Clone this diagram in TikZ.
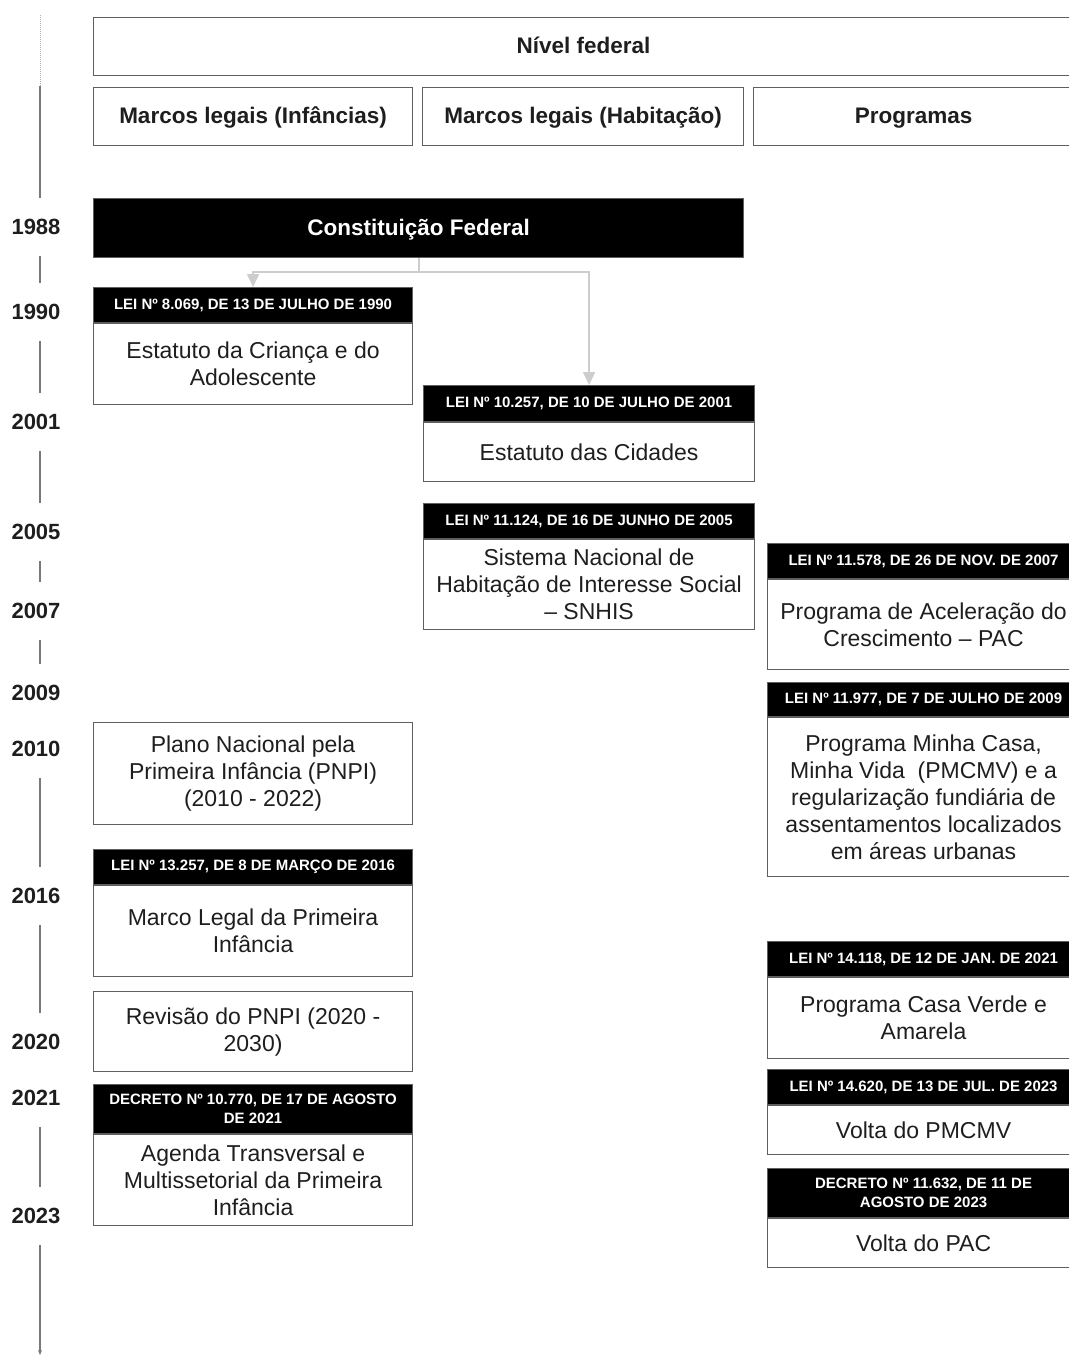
\documentclass[tikz,border=0pt]{standalone}
\usepackage{fontspec}
\setmainfont{Liberation Sans}
\usetikzlibrary{positioning,arrows.meta}
\definecolor{ink}{RGB}{30,30,30}
\definecolor{boxgray}{RGB}{95,95,95}
\definecolor{linegray}{RGB}{120,120,120}
\definecolor{arrowgray}{RGB}{205,205,205}

\begin{document}
\begin{tikzpicture}[x=1pt, y=-1pt,
    year/.style={font=\fontsize{22}{26}\selectfont\bfseries, text=ink, inner sep=0pt},
    colbox/.style={draw=boxgray, line width=1.1pt, anchor=north west, inner sep=0pt, text=ink, text depth=2pt, font=\fontsize{22.5}{27}\selectfont\bfseries},
    lawhead/.style={fill=black, draw=boxgray, line width=1.1pt, anchor=north west, inner sep=0pt, align=center, text=white, font=\fontsize{15}{19}\selectfont\bfseries},
    lawbody/.style={draw=boxgray, line width=1.1pt, inner sep=0pt, align=center, text=ink, font=\fontsize{23}{27}\selectfont},
    timeline/.style={draw=linegray, line width=1.3pt},
    flow/.style={draw=arrowgray, line width=2pt, -{Triangle[length=13pt,width=12pt]}}]
\useasboundingbox (0,0) rectangle (1068,1356);

% Column headers
\node[colbox, minimum width=980pt, minimum height=58pt] (federal) at (93,17) {Nível federal};
\node[colbox, minimum width=319pt, minimum height=58pt] (colinf) at (93,87) {Marcos legais (Infâncias)};
\node[colbox, minimum width=321pt, minimum height=58pt] (colhab) at (422,87) {Marcos legais (Habitação)};
\node[colbox, minimum width=320pt, minimum height=58pt] (colprog) at (753,87) {Programas};

% Constitution
\node[colbox, fill=black, text=white, minimum width=650pt, minimum height=59pt] (const) at (93,198) {Constituição Federal};

% Timeline
\foreach \yr/\ypos in {1988/227, 1990/312, 2001/422, 2005/532, 2007/611, 2009/693,
                       2010/749, 2016/896, 2020/1042, 2021/1098, 2023/1216} {
    \node[year] (y\yr) at (36,\ypos) {\yr};
}
\coordinate (tl) at (40,0);
\coordinate (tltop) at (40,15);
\coordinate (tlmid) at (40,86);
\coordinate (tlend) at (40,1355);
\draw[timeline, draw=linegray!60, line width=1pt, densely dotted] (tltop) -- (tlmid);
\draw[timeline, shorten >=29pt] (tlmid) -- (y1988 -| tl);
\foreach \a/\b in {1988/1990, 1990/2001, 2001/2005, 2005/2007, 2007/2009,
                   2010/2016, 2016/2020, 2021/2023} {
    \draw[timeline, shorten <=29pt, shorten >=29pt] (y\a -| tl) -- (y\b -| tl);
}
\draw[timeline, shorten <=29pt, -{Stealth[length=5pt,width=4pt]}] (y2023 -| tl) -- (tlend);

% Infancias column
\node[lawhead, minimum width=319pt, minimum height=35pt] (h1990) at (93,287) {LEI Nº 8.069, DE 13 DE JULHO DE 1990};
\node[lawbody, minimum width=319pt, minimum height=81pt, below=0pt of h1990] (b1990) {Estatuto da Criança e do\\Adolescente};
\node[lawbody, anchor=north west, minimum width=319pt, minimum height=102pt] (pnpi) at (93,722) {Plano Nacional pela\\Primeira Infância (PNPI)\\(2010 - 2022)};
\node[lawhead, minimum width=319pt, minimum height=35pt] (h2016) at (93,849) {LEI Nº 13.257, DE 8 DE MARÇO DE 2016};
\node[lawbody, minimum width=319pt, minimum height=91pt, below=0pt of h2016] (b2016) {Marco Legal da Primeira\\Infância};
\node[lawbody, anchor=north west, minimum width=319pt, minimum height=80pt] (revisao) at (93,991) {Revisão do PNPI (2020 -\\2030)};
\node[lawhead, minimum width=319pt, minimum height=49pt] (h2021) at (93,1084) {DECRETO Nº 10.770, DE 17 DE AGOSTO\\DE 2021};
\node[lawbody, minimum width=319pt, minimum height=91pt, below=0pt of h2021] (b2021) {Agenda Transversal e\\Multissetorial da Primeira\\Infância};

% Habitacao column
\node[lawhead, minimum width=331pt, minimum height=36pt] (h2001) at (423,385) {LEI Nº 10.257, DE 10 DE JULHO DE 2001};
\node[lawbody, minimum width=331pt, minimum height=59pt, below=0pt of h2001] (b2001) {Estatuto das Cidades};
\node[lawhead, minimum width=331pt, minimum height=35pt] (h2005) at (423,503) {LEI Nº 11.124, DE 16 DE JUNHO DE 2005};
\node[lawbody, minimum width=331pt, minimum height=90pt, below=0pt of h2005] (b2005) {Sistema Nacional de\\Habitação de Interesse Social\\– SNHIS};

% Programas column
\node[lawhead, minimum width=312pt, minimum height=35pt] (h2007) at (767,543) {LEI Nº 11.578, DE 26 DE NOV. DE 2007};
\node[lawbody, minimum width=312pt, minimum height=90pt, below=0pt of h2007] (b2007) {Programa de Aceleração do\\Crescimento – PAC};
\node[lawhead, minimum width=312pt, minimum height=34pt] (h2009) at (767,682) {LEI Nº 11.977, DE 7 DE JULHO DE 2009};
\node[lawbody, minimum width=312pt, minimum height=159pt, below=0pt of h2009] (b2009) {Programa Minha Casa,\\Minha Vida~ (PMCMV) e a\\regularização fundiária de\\assentamentos localizados\\em áreas urbanas};
\node[lawhead, minimum width=312pt, minimum height=35pt] (h2021b) at (767,941) {LEI Nº 14.118, DE 12 DE JAN. DE 2021};
\node[lawbody, minimum width=312pt, minimum height=81pt, below=0pt of h2021b] (b2021b) {Programa Casa Verde e\\Amarela};
\node[lawhead, minimum width=312pt, minimum height=35pt] (h2023) at (767,1069) {LEI Nº 14.620, DE 13 DE JUL. DE 2023};
\node[lawbody, minimum width=312pt, minimum height=49pt, below=0pt of h2023] (b2023) {Volta do PMCMV};
\node[lawhead, minimum width=312pt, minimum height=49pt] (hdec23) at (767,1168) {DECRETO Nº 11.632, DE 11 DE\\AGOSTO DE 2023};
\node[lawbody, minimum width=312pt, minimum height=49pt, below=0pt of hdec23] (bdec23) {Volta do PAC};

% Links from the Constitution
\draw[flow] (const.south) -- ++(0,14) coordinate (fork) -| (h1990.north);
\draw[flow] (fork) -| (h2001.north);
\end{tikzpicture}
\end{document}
